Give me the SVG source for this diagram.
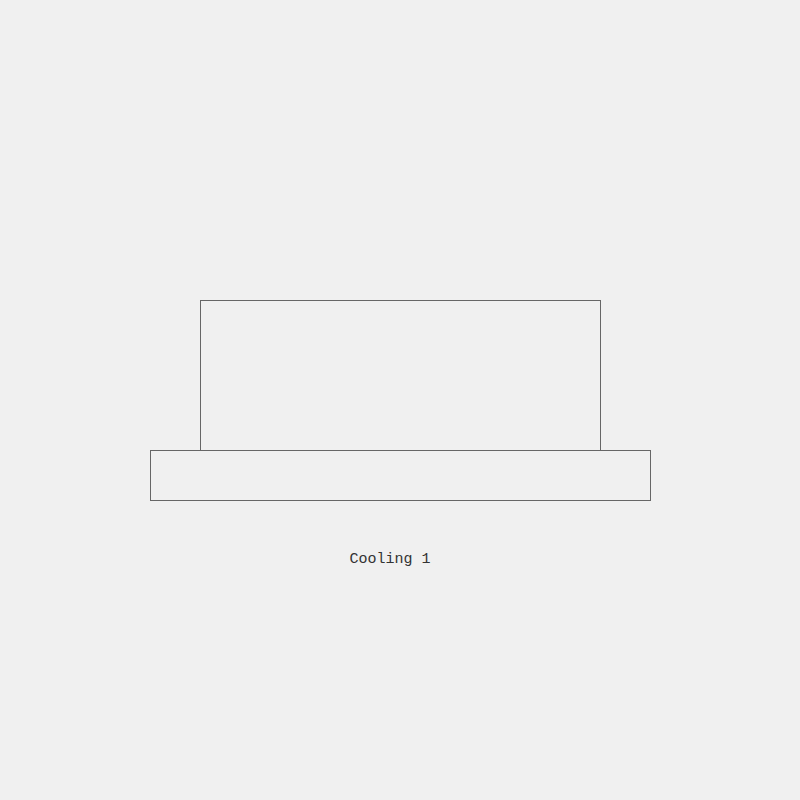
<svg xmlns="http://www.w3.org/2000/svg" width="800" height="800" viewBox="0 0 800 800">
<style>
.s{fill:none;stroke:#666;stroke-width:1}
.t{font-family:"Liberation Mono","DejaVu Sans Mono",monospace;font-size:15px;fill:#333}
</style>
<rect width="800" height="800" fill="#f0f0f0"/>
<g id="upper"><rect class="s" x="200.5" y="300.5" width="400" height="150"/></g>
<g id="base"><rect class="s" x="150.5" y="450.5" width="500" height="50"/></g>
<g id="label"><text class="t" x="390" y="563" text-anchor="middle">Cooling 1</text></g>
</svg>
